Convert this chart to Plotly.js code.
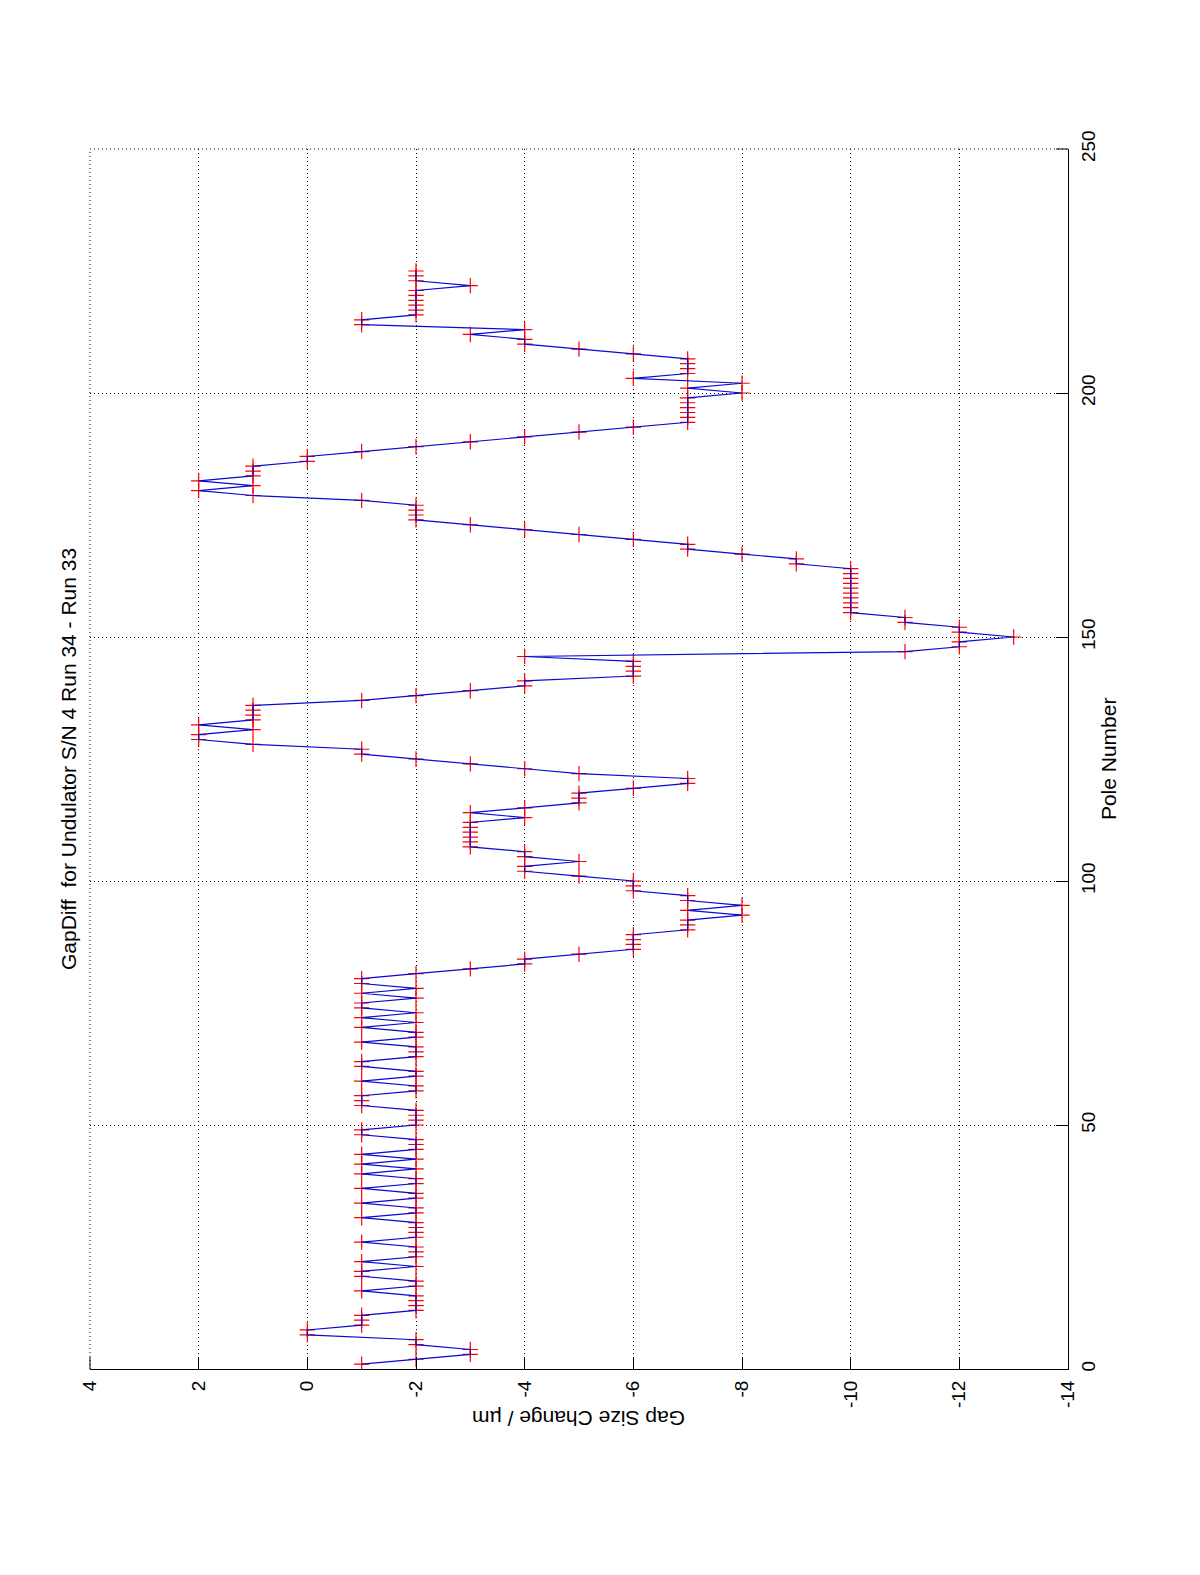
<!DOCTYPE html>
<html>
<head>
<meta charset="utf-8">
<script src="https://cdn.plot.ly/plotly-3.0.1.min.js"></script>
<style>
  html, body { margin: 0; padding: 0; background: #ffffff; }
  #chart { width: 1200px; height: 1575px; }
</style>
</head>
<body>
<div id="chart"></div>
<script>
// Pole numbers (vertical axis in the rotated figure)
const poles = [];
for (let i = 1; i <= 225; i++) poles.push(i);

// Gap size change in µm, one value per pole
const gapChange = [
  -1, -2, -3, -3, -2, -2,  0,  0, -1, -1,   // 1-10
  -1, -2, -2, -2, -2, -1, -2, -2, -1, -1,   // 11-20
  -2, -1, -2, -2, -2, -1, -2, -2, -2, -2,   // 21-30
  -1, -2, -2, -1, -2, -2, -1, -2, -2, -1,   // 31-40
  -2, -1, -2, -1, -2, -2, -2, -1, -1, -2,   // 41-50
  -2, -2, -2, -1, -1, -1, -2, -2, -1, -2,   // 51-60
  -2, -1, -1, -2, -2, -2, -1, -2, -2, -1,   // 61-70
  -2, -1, -2, -1, -1, -2, -1, -2, -1, -1,   // 71-80
  -2, -3, -4, -4, -5, -6, -6, -6, -6, -7,   // 81-90
  -7, -7, -8, -7, -8, -7, -7, -6, -6, -6,   // 91-100
  -5, -4, -4, -5, -4, -4, -3, -3, -3, -3,   // 101-110
  -3, -3, -4, -3, -4, -5, -5, -5, -6, -7,   // 111-120
  -7, -5, -4, -3, -2, -1, -1,  1,  2,  2,   // 121-130
   1,  2,  1,  1,  1,  1, -1, -2, -3, -4,   // 131-140
  -4, -6, -6, -6, -6, -4, -11, -12, -12, -13, // 141-150
  -12, -12, -11, -11, -10, -10, -10, -10, -10, -10, // 151-160
  -10, -10, -10, -10, -9, -9, -8, -7, -7, -6, // 161-170
  -5, -4, -3, -2, -2, -2, -2, -1,  1,  2,   // 171-180
   1,  2,  1,  1,  1,  0,  0, -1, -2, -3,   // 181-190
  -4, -5, -6, -7, -7, -7, -7, -7, -7, -8,   // 191-200
  -7, -8, -6, -7, -7, -7, -7, -6, -5, -4,   // 201-210
  -4, -3, -4, -1, -1, -2, -2, -2, -2, -2,   // 211-220
  -2, -3, -2, -2, -2                        // 221-225
];

// Axis ticks
const poleTicks = [0, 50, 100, 150, 200, 250];
const poleTickLabels = ['0', '50', '100', '150', '200', '250'];
const gapTicks = [4, 2, 0, -2, -4, -6, -8, -10, -12, -14];
const gapTickLabels = ['4', '2', '0', '-2', '-4', '-6', '-8', '-10', '-12', '-14'];

const titleText = 'GapDiff&nbsp;&nbsp;for Undulator S/N 4 Run 34 - Run 33';
const poleLabel = 'Pole Number';
const gapLabel = 'Gap Size Change / \u00b5m';

const fontFam = '"Liberation Sans", Arial, Helvetica, sans-serif';
const dotDash = '1px,3px';

const markerTrace = {
  x: gapChange,
  y: poles,
  type: 'scatter',
  mode: 'markers',
  marker: {
    symbol: 'cross-thin',
    size: 11,
    color: '#ff0000',
    line: { color: '#ff0000', width: 1.2 }
  },
  hoverinfo: 'skip',
  showlegend: false
};

const lineTrace = {
  x: gapChange,
  y: poles,
  type: 'scatter',
  mode: 'lines',
  line: { color: 'rgb(10,10,210)', width: 1.2 },
  hoverinfo: 'skip',
  showlegend: false
};

const axisCommon = {
  showline: true,
  linecolor: '#000000',
  linewidth: 1,
  mirror: false,
  ticks: 'inside',
  ticklen: 12,
  tickwidth: 1,
  tickcolor: '#000000',
  showgrid: true,
  gridcolor: '#000000',
  gridwidth: 1,
  griddash: dotDash,
  zeroline: false,
  tickfont: { family: fontFam, size: 19, color: '#000000' },
  tickangle: -90,
  ticklabelstandoff: 3,
  fixedrange: true
};

const layout = {
  width: 1200,
  height: 1575,
  margin: { l: 90, r: 132, t: 149, b: 206 },
  paper_bgcolor: '#ffffff',
  plot_bgcolor: '#ffffff',
  font: { family: fontFam, color: '#000000' },
  showlegend: false,
  xaxis: Object.assign({}, axisCommon, {
    range: [4, -14],
    tickmode: 'array',
    tickvals: gapTicks,
    ticktext: gapTickLabels,
    side: 'bottom'
  }),
  yaxis: Object.assign({}, axisCommon, {
    range: [0, 250],
    tickmode: 'array',
    tickvals: poleTicks,
    ticktext: poleTickLabels,
    side: 'right'
  }),
  shapes: [
    // dotted grid lines on the left and top edges of the plot area
    { type: 'line', xref: 'paper', yref: 'paper', x0: 0, x1: 0, y0: 0, y1: 1,
      line: { color: '#000000', width: 1, dash: dotDash }, layer: 'below' },
    { type: 'line', xref: 'paper', yref: 'paper', x0: 0, x1: 1, y0: 1, y1: 1,
      line: { color: '#000000', width: 1, dash: dotDash }, layer: 'below' },
    // inward ticks at the far ends (gap = 4 on bottom axis, pole = 250 on right axis)
    { type: 'line', xref: 'paper', yref: 'paper', x0: 0.9877, x1: 1, y0: 1, y1: 1,
      line: { color: '#000000', width: 1 } },
    { type: 'line', xref: 'paper', yref: 'paper', x0: 0, x1: 0, y0: 0, y1: 0.0098,
      line: { color: '#000000', width: 1 } }
  ],
  annotations: [
    {
      text: titleText,
      xref: 'paper', yref: 'paper',
      x: -0.0225, y: 0.5,
      xanchor: 'center', yanchor: 'middle',
      textangle: -90,
      showarrow: false,
      font: { family: fontFam, size: 21, color: '#000000' }
    },
    {
      text: poleLabel,
      xref: 'paper', yref: 'paper',
      x: 1.041, y: 0.5,
      xanchor: 'center', yanchor: 'middle',
      textangle: -90,
      showarrow: false,
      font: { family: fontFam, size: 21, color: '#000000' }
    },
    {
      text: gapLabel,
      xref: 'paper', yref: 'paper',
      x: 0.5, y: -0.0406,
      xanchor: 'center', yanchor: 'middle',
      textangle: 180,
      showarrow: false,
      font: { family: fontFam, size: 21, color: '#000000' }
    }
  ]
};

Plotly.newPlot('chart', [markerTrace, lineTrace], layout, { displayModeBar: false, staticPlot: true });
</script>
</body>
</html>
